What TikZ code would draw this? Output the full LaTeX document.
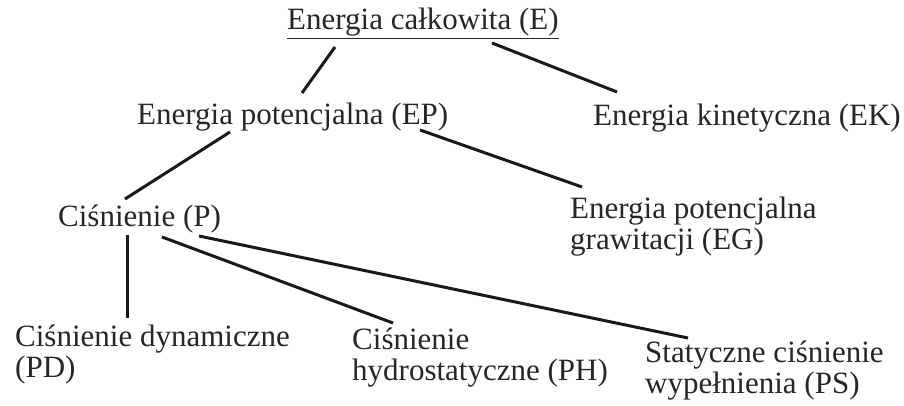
\documentclass[tikz,border=0pt]{standalone}
\usepackage{fontspec}
\setmainfont{Liberation Serif}
\begin{document}
\begin{tikzpicture}[x=1pt,y=-1pt,
  lbl/.style={anchor=base west,inner sep=0pt,align=left,text=black!85,
    font=\fontsize{31}{30.5}\selectfont},
  conn/.style={line width=3pt,draw=black!90}]
\useasboundingbox[fill=white] (0,0) rectangle (904,406);
\node[lbl] (E)  at (287,30)  {\underline{Energia całkowita (E)}};
\node[lbl] (EP) at (137,125) {Energia potencjalna (EP)};
\node[lbl] (EK) at (593,126) {Energia kinetyczna (EK)};
\node[lbl] (P)  at (58,226)  {Ciśnienie (P)};
\node[lbl] (EG) at (570,249) {Energia potencjalna\\grawitacji (EG)};
\node[lbl] (PD) at (15,377)  {Ciśnienie dynamiczne\\(PD)};
\node[lbl] (PH) at (352,380) {Ciśnienie\\hydrostatyczne (PH)};
\node[lbl] (PS) at (645,393) {Statyczne ciśnienie\\wypełnienia (PS)};
\coordinate (e1) at ([shift={(48,17)}]E.base west);
\coordinate (e2) at ([shift={(205,13)}]E.base west);
\coordinate (p1) at ([shift={(165,-32)}]EP.base west);
\coordinate (p2) at ([shift={(93,7)}]EP.base west);
\coordinate (p3) at ([shift={(283,5)}]EP.base west);
\coordinate (k1) at ([shift={(24,-34)}]EK.base west);
\coordinate (q1) at ([shift={(67,-27)}]P.base west);
\coordinate (q2) at ([shift={(69,9)}]P.base west);
\coordinate (q3) at ([shift={(104,11)}]P.base west);
\coordinate (q4) at ([shift={(141,10)}]P.base west);
\coordinate (g1) at ([shift={(12,-62)}]EG.base west);
\coordinate (d1) at ([shift={(112,-59)}]PD.base west);
\coordinate (h1) at ([shift={(41,-57)}]PH.base west);
\coordinate (s1) at ([shift={(43,-55)}]PS.base west);
\draw[conn] (e1) -- (p1);
\draw[conn] (e2) -- (k1);
\draw[conn] (p2) -- (q1);
\draw[conn] (p3) -- (g1);
\draw[conn] (q2) -- (d1);
\draw[conn] (q3) -- (h1);
\draw[conn] (q4) -- (s1);
\end{tikzpicture}
\end{document}
